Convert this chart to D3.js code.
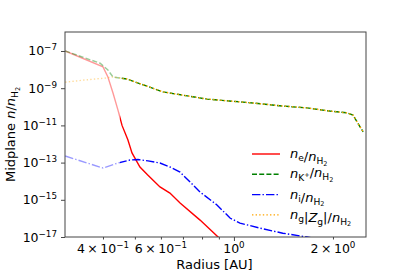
<!DOCTYPE html>
<html>
<head>
<script src="https://cdn.jsdelivr.net/npm/d3@7"></script>
<style>
  body { margin: 0; background: #fff; }
  text { font-family: "DejaVu Sans", sans-serif; fill: #000; }
</style>
</head>
<body>
<div id="chart"></div>
<script>
// data (radius in AU, abundance relative to H2)
var rE   = [0.307, 0.40, 0.414, 0.429, 0.444, 0.457, 0.476, 0.490, 0.518, 0.548, 0.596, 0.639, 0.686, 0.789, 0.895, 0.93];
var nE   = [1.0e-7, 1.4e-8, 4.0e-9, 5.5e-10, 6.8e-11, 1.0e-11, 1.7e-12, 3.3e-13, 5.8e-14, 2.1e-14, 4.9e-15, 2.3e-15, 6.8e-16, 8.1e-17, 1.0e-17, 5e-18];

var rK   = [0.307, 0.392, 0.414, 0.429, 0.473, 0.609, 0.828, 1.142, 1.408, 1.668, 1.956, 2.21, 2.30, 2.37, 2.47];
var nK   = [1.0e-7, 2.2e-8, 9.5e-9, 4.0e-9, 3.1e-9, 6.3e-10, 2.6e-10, 1.6e-10, 1.1e-10, 8.7e-11, 5.9e-11, 4.7e-11, 3.6e-11, 1.5e-11, 4.5e-12];

var rI   = [0.307, 0.40, 0.444, 0.483, 0.511, 0.548, 0.596, 0.639, 0.686, 0.789, 0.888, 0.973, 1.043, 1.20, 1.408, 1.668, 1.956];
var nI   = [2.26e-13, 5.1e-14, 9.5e-14, 1.38e-13, 1.47e-13, 1.23e-13, 9.5e-14, 5.8e-14, 3.1e-14, 2.6e-15, 5.3e-16, 1.05e-16, 5.6e-17, 3.0e-17, 1.6e-17, 1.0e-17, 6e-18];

var rG   = [0.307, 0.348, 0.406, 0.429, 0.473, 0.609, 0.828, 1.142, 1.408, 1.668, 1.956, 2.21, 2.30, 2.37, 2.47];
var nG   = [2.1e-9, 2.7e-9, 3.5e-9, 4.0e-9, 3.1e-9, 6.3e-10, 2.6e-10, 1.6e-10, 1.1e-10, 8.7e-11, 5.9e-11, 4.7e-11, 3.6e-11, 1.5e-11, 4.5e-12];

var fadeBelow = 0.45;   // inner part drawn transparent

var xTicks = [0.4, 0.5, 0.6, 0.7, 0.8, 0.9, 1, 2];
var xLabels = [[0.4, "4", "\u22121"], [0.6, "6", "\u22121"], [1, null, "0"], [2, "2", "0"]];
var yTicks = [-17, -15, -13, -11, -9, -7];

var W = 407, H = 271;
var m = {left: 65, right: 366, top: 32, bottom: 237};

var svg = d3.select("#chart").append("svg")
  .attr("width", W).attr("height", H);

var x = d3.scaleLog().domain([0.3066, 2.52]).range([m.left, m.right]);
var y = d3.scaleLog().domain([1e-17, 1.05e-6]).range([m.bottom, m.top]);

var defs = svg.append("defs");
defs.append("clipPath").attr("id", "plot")
  .append("rect").attr("x", m.left).attr("y", m.top)
  .attr("width", m.right - m.left).attr("height", m.bottom - m.top);
defs.append("clipPath").attr("id", "inner")
  .append("rect").attr("x", m.left).attr("y", 0)
  .attr("width", x(fadeBelow) - m.left).attr("height", H);
defs.append("clipPath").attr("id", "outer")
  .append("rect").attr("x", x(fadeBelow)).attr("y", 0)
  .attr("width", m.right - x(fadeBelow)).attr("height", H);

var series = [
  {r: rE, n: nE, color: "red",    dash: null},
  {r: rK, n: nK, color: "green",  dash: "5,2.2"},
  {r: rI, n: nI, color: "blue",   dash: "8.4,2.1,1.4,2.1"},
  {r: rG, n: nG, color: "orange", dash: "1.4,2.2"}
];

var line = d3.line()
  .x(function(d) { return x(d[0]); })
  .y(function(d) { return y(d[1]); });

var plot = svg.append("g").attr("clip-path", "url(#plot)");
var parts = [["inner", 0.4], ["outer", 1]];
parts.forEach(function(p) {
  var g = plot.append("g").attr("clip-path", "url(#" + p[0] + ")");
  series.forEach(function(s) {
    g.append("path")
      .attr("d", line(d3.zip(s.r, s.n)))
      .attr("fill", "none")
      .attr("stroke", s.color)
      .attr("stroke-opacity", p[1])
      .attr("stroke-width", 1.4)
      .attr("stroke-dasharray", s.dash);
  });
});

// axes
var xAxis = svg.append("g").attr("transform", "translate(0," + m.bottom + ")")
  .call(d3.axisBottom(x).tickValues(xTicks).tickFormat("").tickSizeOuter(0));
xAxis.selectAll(".tick line").attr("y2", function(d) { return d === 1 ? 4 : 2.5; });
var yAxis = svg.append("g").attr("transform", "translate(" + m.left + ",0)")
  .call(d3.axisLeft(y).tickValues(yTicks.map(function(e) { return Math.pow(10, e); }))
    .tickFormat("").tickSizeOuter(0).tickSize(4));
svg.selectAll(".domain").remove();
svg.selectAll(".tick line").attr("stroke", "#333").attr("stroke-width", 0.9);

svg.append("rect")
  .attr("x", m.left).attr("y", m.top)
  .attr("width", m.right - m.left).attr("height", m.bottom - m.top)
  .attr("fill", "none").attr("stroke", "#444").attr("stroke-width", 1);

var fs = 12.5;   // tick labels
var afs = 13;    // axis titles

xLabels.forEach(function(l) {
  var t = svg.append("text")
    .attr("x", x(l[0])).attr("y", 253)
    .attr("text-anchor", "middle").attr("font-size", fs);
  t.append("tspan").text((l[1] ? l[1] + "\u2009\u00d7\u2009" : "") + "10");
  t.append("tspan").attr("dy", -5).attr("font-size", fs * 0.7).text(l[2]);
});

yTicks.forEach(function(e) {
  var t = svg.append("text")
    .attr("x", 57).attr("y", y(Math.pow(10, e)) + 4.5)
    .attr("text-anchor", "end").attr("font-size", fs);
  t.append("tspan").text("10");
  t.append("tspan").attr("dy", -5).attr("font-size", fs * 0.7).text("\u2212" + (-e));
});

svg.append("text")
  .attr("x", (m.left + m.right) / 2 - 1).attr("y", 269)
  .attr("text-anchor", "middle").attr("font-size", afs)
  .text("Radius [AU]");

// writes "n_sub" with italic n
function nSub(t, sub, size) {
  t.append("tspan").attr("font-style", "italic").text("n");
  t.append("tspan").attr("dy", 3).attr("font-size", size * 0.7).text(sub);
  t.append("tspan").attr("dy", -3).text("");
}
function nH2(t, size) {
  t.append("tspan").attr("font-style", "italic").text("n");
  t.append("tspan").attr("dy", 3).attr("font-size", size * 0.7).text("H");
  t.append("tspan").attr("dy", 1.5).attr("font-size", size * 0.5).text("2");
  t.append("tspan").attr("dy", -4.5).text("");
}

var yl = svg.append("text")
  .attr("transform", "translate(15," + ((m.top + m.bottom) / 2) + ") rotate(-90)")
  .attr("text-anchor", "middle").attr("font-size", afs);
yl.append("tspan").text("Midplane ");
yl.append("tspan").attr("font-style", "italic").text("n");
yl.append("tspan").text("/");
nH2(yl, afs);

// legend
var leg = svg.append("g");
var lfs = 13;
series.forEach(function(s, i) {
  var yy = 154 + i * 20.3;
  leg.append("line")
    .attr("x1", 252).attr("x2", 280).attr("y1", yy).attr("y2", yy)
    .attr("stroke", s.color).attr("stroke-width", 1.4)
    .attr("stroke-dasharray", s.dash);
  var t = leg.append("text").attr("x", 290).attr("y", yy + 4).attr("font-size", lfs);
  if (i === 0) { nSub(t, "e", lfs); }
  if (i === 1) {
    t.append("tspan").attr("font-style", "italic").text("n");
    t.append("tspan").attr("dy", 3).attr("font-size", lfs * 0.7).text("K");
    t.append("tspan").attr("dy", -4).attr("font-size", lfs * 0.5).text("+");
    t.append("tspan").attr("dy", 1).text("");
  }
  if (i === 2) { nSub(t, "i", lfs); }
  if (i === 3) {
    nSub(t, "g", lfs);
    t.append("tspan").text("|");
    t.append("tspan").attr("font-style", "italic").text("Z");
    t.append("tspan").attr("dy", 3).attr("font-size", lfs * 0.7).text("g");
    t.append("tspan").attr("dy", -3).text("|");
  }
  t.append("tspan").text("/");
  nH2(t, lfs);
});
</script>
</body>
</html>
